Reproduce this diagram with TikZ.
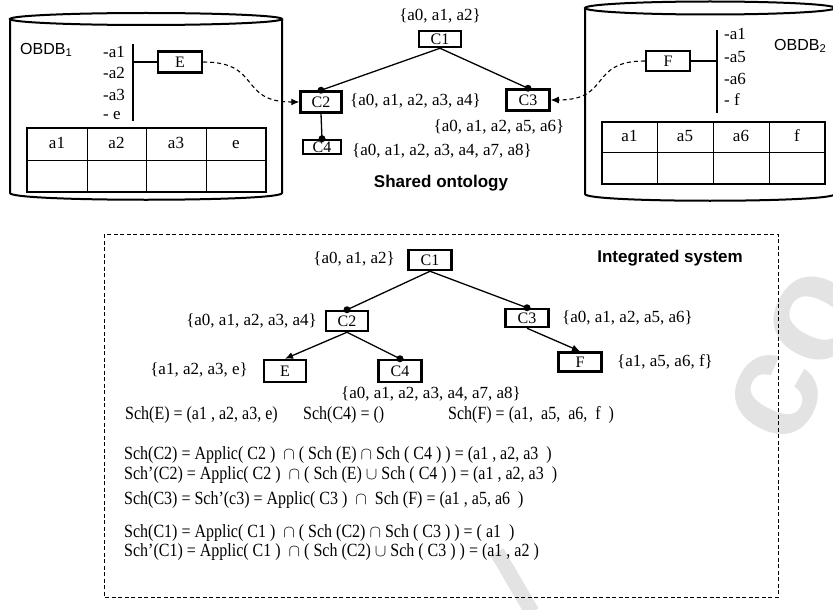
\documentclass[tikz,border=0pt]{standalone}
\usepackage{fontspec}
\setmainfont{Liberation Serif}
\setsansfont{Liberation Sans}
\newfontfamily\eqfont[FakeStretch=0.86,Ligatures=TeX]{Liberation Serif}
\usetikzlibrary{arrows.meta}
\newcommand\fsz[1]{\fontsize{#1}{#1}\selectfont}

\begin{document}
\begin{tikzpicture}[x=1pt,y=-1pt,
  cls/.style={draw, line width=2.5pt, minimum width=42pt, minimum height=19pt, inner sep=0pt, font=\fsz{16}},
  attr/.style={font=\fsz{17}, inner sep=0pt, anchor=west},
  lbl/.style={font=\fsz{17}, inner sep=0pt, text height=12pt, text depth=4pt},
  eqn/.style={font=\eqfont\fsz{18.6}, inner sep=0pt, anchor=west},
  head/.style={font=\fsz{17}, inner sep=0pt, text height=12pt, text depth=3pt},
  title/.style={font=\sffamily\bfseries\fsz{17}, inner sep=0pt},
  dbname/.style={font=\sffamily\fsz{16}, inner sep=0pt, anchor=west},
  edge/.style={line width=1.3pt},
  dot/.style={circle, fill, inner sep=0pt, minimum size=7pt},
  link/.style={line width=1.1pt, dash pattern=on 4pt off 3pt, -{Latex[length=8pt,width=7pt]}},
  cyl/.style={line width=2pt},
  tbl/.style={line width=2.4pt},
  cell/.style={line width=1pt},
]
\useasboundingbox (0,0) rectangle (833,610);

% watermark
\node[font=\sffamily\bfseries\fsz{150}, text=gray!22, rotate=63, inner sep=0pt] (wm) at (797,356) {co};
\draw[gray!22, line width=15pt] (497,552) -- (532,612);

% ---------- left database ----------
\draw[cyl] (10,19) -- (10,193) .. controls (10,202) and (282,202) .. (282,193) -- (282,19);
\draw[cyl] (146,19) ellipse [x radius=136, y radius=6];
\node[dbname] (db1) at (20,50) {OBDB\textsubscript{1}};
\node[attr] (la1) at (103,52) {-a1};
\node[attr] (la2) at (103,73) {-a2};
\node[attr] (la3) at (103,95) {-a3};
\node[attr] (lae) at (103,116) {- e};
\coordinate (lbarT) at (133,44);
\coordinate (lbarB) at (133,121);
\draw[edge] (lbarT) -- (lbarB);
\node[cls, minimum width=44pt, minimum height=21pt] (Etop) at (180,62) {E};
\draw[edge] (Etop.west) -- (Etop.west -| lbarT);
\draw[tbl] (27,128) rectangle (266,192);
\draw[cell] (27,160) -- (266,160) (87,128) -- (87,192) (146,128) -- (146,192) (206,128) -- (206,192);
\node[head] (h1a) at (57,144) {a1};
\node[head] (h1b) at (116.5,144) {a2};
\node[head] (h1c) at (176,144) {a3};
\node[head] (h1d) at (236,144) {e};

% ---------- right database ----------
\draw[cyl] (585,8) -- (585,194) .. controls (585,203) and (835,203) .. (835,194) -- (835,8);
\draw[cyl] (710,8) ellipse [x radius=125, y radius=6.5];
\node[dbname] (db2) at (774,46) {OBDB\textsubscript{2}};
\node[attr] (ra1) at (724,34) {-a1};
\node[attr] (ra5) at (724,57) {-a5};
\node[attr] (ra6) at (724,79) {-a6};
\node[attr] (raf) at (724,100) {- f};
\coordinate (rbarT) at (717,30);
\coordinate (rbarB) at (717,113);
\draw[edge] (rbarT) -- (rbarB);
\node[cls, minimum width=44pt, minimum height=20pt] (Ftop) at (668,61) {F};
\draw[edge] (Ftop.east) -- (Ftop.east -| rbarT);
\draw[tbl] (602,122) rectangle (825,184);
\draw[cell] (602,152) -- (825,152) (657,122) -- (657,184) (713,122) -- (713,184) (769,122) -- (769,184);
\node[head] (h2a) at (629.5,137) {a1};
\node[head] (h2b) at (685,137) {a5};
\node[head] (h2c) at (741,137) {a6};
\node[head] (h2d) at (797,137) {f};

% ---------- shared ontology ----------
\node[cls, minimum height=16pt] (C1t) at (440,39) {C1};
\node[cls, minimum width=41pt, minimum height=21pt] (C2t) at (321,102) {C2};
\node[cls, minimum width=43pt, minimum height=21pt] (C3t) at (528,100) {C3};
\node[cls, minimum width=38pt, minimum height=14pt] (C4t) at (322,147) {C4};
\node[lbl] (s1) at (440,17) {\{a0, a1, a2\}};
\node[lbl, anchor=west] (s2) at (350,102) {\{a0, a1, a2, a3, a4\}};
\node[lbl] (s3) at (499,127) {\{a0, a1, a2, a5, a6\}};
\node[lbl, anchor=west] (s4) at (352,151) {\{a0, a1, a2, a3, a4, a7, a8\}};
\node[title] (shared) at (441,183) {Shared ontology};
\draw[edge] (C1t.south) -- (C2t.north) node[dot] {};
\draw[edge] (C1t.south) -- (C3t.north) node[dot] {};
\draw[edge] (C2t.south) -- (C4t.north) node[dot] {};
\draw[link] (Etop.east) .. controls (262,62) and (238,102) .. (C2t.west);
\draw[link] (Ftop.west) .. controls (588,61) and (612,100) .. (C3t.east);

% ---------- integrated system ----------
\draw[line width=1pt, dash pattern=on 4pt off 2.5pt] (104,234) rectangle (778,597);
\node[title, anchor=east] (integ) at (743,258) {Integrated system};

\node[cls, minimum width=43pt, minimum height=20pt] (C1b) at (430,260) {C1};
\node[cls, minimum width=42pt, minimum height=20pt] (C2b) at (347,321) {C2};
\node[cls, minimum width=42pt, minimum height=22pt] (Eb) at (285,371) {E};
\node[cls, minimum width=43pt, minimum height=22pt] (C4b) at (400,371) {C4};
\node[cls, minimum width=43pt, minimum height=18pt] (C3b) at (527,318) {C3};
\node[cls, minimum width=43pt, minimum height=19pt] (Fb) at (580,362) {F};

\node[lbl, anchor=east] (b1) at (395,259) {\{a0, a1, a2\}};
\node[lbl, anchor=east] (b2) at (317,321) {\{a0, a1, a2, a3, a4\}};
\node[lbl, anchor=east] (b3) at (248,370) {\{a1, a2, a3, e\}};
\node[lbl] (b4) at (431,394) {\{a0, a1, a2, a3, a4, a7, a8\}};
\node[lbl, anchor=west] (b5) at (562,318) {\{a0, a1, a2, a5, a6\}};
\node[lbl, anchor=west] (b6) at (617,362) {\{a1, a5, a6, f\}};

\draw[edge] (C1b.south) -- (C2b.north) node[dot] {};
\draw[edge] (C1b.south) -- (C3b.north) node[dot] {};
\draw[edge] (C2b.south) -- (C4b.north) node[dot] {};
\draw[edge, -{Latex[length=8pt,width=7pt]}] (C2b.south) -- (Eb.north);
\draw[edge, -{Latex[length=8pt,width=7pt]}] (C3b.south) -- (Fb.north);

% ---------- schema equations ----------
\node[eqn] (q1) at (125,415) {Sch(E) = (a1 , a2, a3, e)};
\node[eqn] (q2) at (303,415) {Sch(C4) = ()};
\node[eqn] (q3) at (448,415) {Sch(F) = (a1,\ \ a5,\ \ a6,\ \ f\ \ )};
\node[eqn] (q4) at (124,455) {Sch(C2) = Applic( C2 )\ \ $\cap$ ( Sch (E) $\cap$ Sch ( C4 ) ) = (a1 , a2, a3\ \ )};
\node[eqn] (q5) at (124,475) {Sch’(C2) = Applic( C2 )\ \ $\cap$ ( Sch (E) $\cup$ Sch ( C4 ) ) = (a1 , a2, a3\ \ )};
\node[eqn] (q6) at (124,500) {Sch(C3) = Sch’(c3) = Applic( C3 )\ \ $\cap$\ \ Sch (F) = (a1 , a5, a6\ \ )};
\node[eqn] (q7) at (124,533) {Sch(C1) = Applic( C1 )\ \ $\cap$ ( Sch (C2) $\cap$ Sch ( C3 ) ) = ( a1\ \ )};
\node[eqn] (q8) at (124,552) {Sch’(C1) = Applic( C1 )\ \ $\cap$ ( Sch (C2) $\cup$ Sch ( C3 ) ) = (a1 , a2 )};
\end{tikzpicture}
\end{document}
